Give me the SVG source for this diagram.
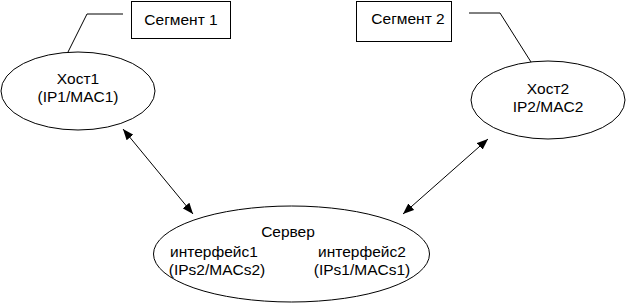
<svg xmlns="http://www.w3.org/2000/svg" width="626" height="304" viewBox="0 0 626 304">
<style>
.s{fill:none;stroke:#000;stroke-width:1}
.n{fill:#fff;stroke:#000;stroke-width:1}
text{font-family:"Liberation Sans",Arial,sans-serif;font-size:15.5px;fill:#000;text-anchor:middle}
</style>
<defs>
<marker id="ah" viewBox="0 0 10 8" refX="10" refY="4" markerWidth="11" markerHeight="9" markerUnits="userSpaceOnUse" orient="auto-start-reverse">
<path d="M0,0 L10,4 L0,8 Z" fill="#000"/>
</marker>
</defs>
<g id="connectors">
<polyline class="s" points="123,14 87,14 68,52"/>
<polyline class="s" points="469,13 500,13 531,62"/>
<line class="s" x1="123" y1="129" x2="193" y2="214" marker-start="url(#ah)" marker-end="url(#ah)"/>
<line class="s" x1="488" y1="139" x2="403" y2="214" marker-start="url(#ah)" marker-end="url(#ah)"/>
</g>
<g id="segment1">
<rect class="n" x="131.5" y="1.5" width="99" height="37"/>
<text x="181" y="25">Сегмент 1</text>
</g>
<g id="segment2">
<rect class="n" x="356.5" y="1.5" width="95" height="40"/>
<text x="408" y="24">Сегмент 2</text>
</g>
<g id="host1">
<ellipse class="n" cx="78" cy="91" rx="77" ry="39"/>
<text x="78" y="84">Хост1</text>
<text x="78" y="102">(IP1/MAC1)</text>
</g>
<g id="host2">
<ellipse class="n" cx="548" cy="100" rx="77" ry="39"/>
<text x="548" y="94">Хост2</text>
<text x="548" y="112">IP2/MAC2</text>
</g>
<g id="server">
<ellipse class="n" cx="291.5" cy="254" rx="138" ry="48"/>
<text x="288" y="237">Сервер</text>
<text x="214" y="257">интерфейс1</text>
<text x="217" y="275">(IPs2/MACs2)</text>
<text x="362" y="257">интерфейс2</text>
<text x="362" y="275">(IPs1/MACs1)</text>
</g>
</svg>
